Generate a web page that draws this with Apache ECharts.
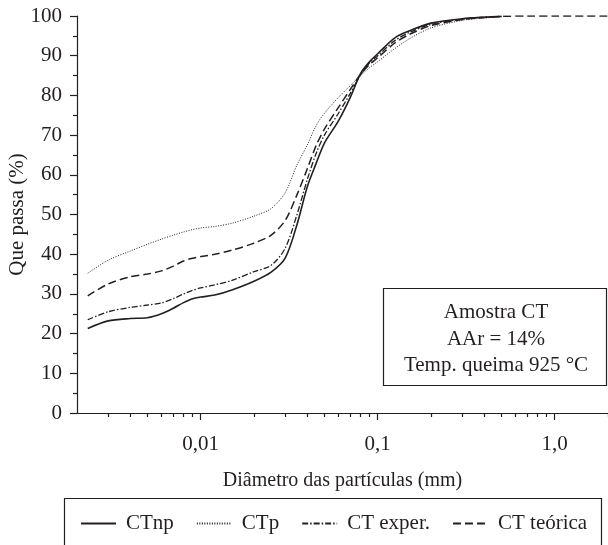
<!DOCTYPE html>
<html>
<head>
<meta charset="utf-8">
<script src="https://cdn.jsdelivr.net/npm/echarts@6/dist/echarts.min.js"></script>
<style>
  html, body { margin: 0; padding: 0; background: #fff; }
  #chart { width: 608px; height: 545px; }
</style>
</head>
<body>
<div id="chart"></div>
<script>
// diâmetros (mm)
var diam = [0.0023, 0.003, 0.004, 0.005, 0.006, 0.007, 0.008, 0.009, 0.01, 0.012, 0.015, 0.02, 0.025, 0.03,
  0.035, 0.04, 0.045, 0.05, 0.06, 0.07, 0.08, 0.09, 0.1, 0.125, 0.15, 0.2, 0.3, 0.4, 0.5];
var diamTeo = diam.concat([0.7, 1, 2]);

// que passa (%)
var ctnp = [21.3, 23.2, 23.8, 24.0, 25.0, 26.4, 27.8, 28.8, 29.2, 29.7, 31.0, 33.2, 35.5, 39.0,
  47.5, 57.0, 63.0, 68.0, 73.6, 79.5, 85.5, 88.5, 90.5, 94.5, 96.2, 98.2, 99.3, 99.7, 99.9];
var ctp = [35.2, 38.5, 40.8, 42.5, 43.8, 44.8, 45.6, 46.2, 46.6, 47.0, 47.8, 49.6, 51.5, 55.5,
  62.5, 67.5, 72.5, 75.5, 79.5, 82.5, 85.0, 87.0, 88.5, 91.8, 94.2, 97.0, 98.9, 99.5, 99.8];
var ctExper = [23.5, 25.5, 26.6, 27.2, 27.7, 28.8, 30.0, 30.9, 31.5, 32.3, 33.4, 35.6, 37.2, 41.5,
  50.0, 58.8, 65.5, 70.0, 75.5, 80.5, 85.2, 88.2, 90.0, 93.8, 95.8, 97.9, 99.2, 99.7, 99.9];
var ctTeorica = [29.5, 32.5, 34.3, 35.0, 35.8, 37.0, 38.3, 39.0, 39.4, 40.0, 41.0, 42.8, 44.8, 48.5,
  55.0, 61.5, 67.5, 71.5, 77.0, 81.5, 85.3, 87.8, 89.5, 93.2, 95.3, 97.6, 99.1, 99.6, 99.9, 100, 100, 100];

// marcas do eixo x
var xMinorTicks = [0.003, 0.004, 0.005, 0.006, 0.007, 0.008, 0.009,
  0.02, 0.03, 0.04, 0.05, 0.06, 0.07, 0.08, 0.09,
  0.2, 0.3, 0.4, 0.5, 0.6, 0.7, 0.8, 0.9, 2];
var xMajorTicks = [0.01, 0.1, 1];
var xTickLabels = ['0,01', '0,1', '1,0'];

var infoLines = ['Amostra CT', 'AAr = 14%', 'Temp. queima 925 °C'];

var ink = '#231f20';
var serif = 'Liberation Serif';

function pairs(xs, ys) {
  return ys.map(function (v, i) { return [xs[i], v]; });
}

function xLabel(v) {
  for (var i = 0; i < xMajorTicks.length; i++) {
    if (Math.abs(Math.log10(v) - Math.log10(xMajorTicks[i])) < 1e-6) return xTickLabels[i];
  }
  return '';
}

var chart = echarts.init(document.getElementById('chart'));

var opt = {
  animation: false,
  textStyle: { fontFamily: serif, color: ink },
  grid: { left: 77, right: 0, top: 16, bottom: 132, containLabel: false, outerBoundsMode: 'none' },
  legend: {
    left: 75,
    top: 508,
    itemWidth: 35,
    itemHeight: 14,
    itemGap: 22,
    itemStyle: { opacity: 0 },
    textStyle: { fontFamily: serif, fontSize: 21, color: ink, padding: [0, 0, 0, 5] },
    data: ['CTnp', 'CTp', 'CT exper.', 'CT teórica']
  },
  xAxis: [{
    type: 'log',
    logBase: 10,
    min: 0.002,
    max: 2,
    position: 'bottom',
    axisLine: { show: true, lineStyle: { color: ink, width: 1.2 } },
    axisTick: { show: true, customValues: xMinorTicks, length: 4, lineStyle: { color: ink, width: 1.2 } },
    axisLabel: { show: false },
    splitLine: { show: false },
    minorTick: { show: false },
    name: 'Diâmetro das partículas (mm)',
    nameLocation: 'middle',
    nameGap: 58,
    nameMoveOverlap: false,
    nameTextStyle: { fontFamily: serif, fontSize: 20, color: ink }
  }, {
    type: 'log',
    logBase: 10,
    min: 0.002,
    max: 2,
    position: 'bottom',
    offset: 0,
    axisLine: { show: false },
    axisTick: { show: true, customValues: xMajorTicks, length: 7, lineStyle: { color: ink, width: 1.2 } },
    axisLabel: {
      customValues: xMajorTicks,
      formatter: xLabel,
      fontFamily: serif, fontSize: 21, color: ink, margin: 21
    },
    splitLine: { show: false },
    minorTick: { show: false }
  }],
  yAxis: {
    type: 'value',
    min: 0,
    max: 100,
    interval: 10,
    axisLine: { show: true, lineStyle: { color: ink, width: 1.2 } },
    axisTick: { show: true, length: 7, lineStyle: { color: ink, width: 1.2 } },
    minorTick: { show: true, splitNumber: 2, length: 4, lineStyle: { color: ink, width: 1.2 } },
    axisLabel: { fontFamily: serif, fontSize: 21, color: ink, margin: 15 },
    splitLine: { show: false },
    name: 'Que passa (%)',
    nameLocation: 'middle',
    nameGap: 49,
    nameMoveOverlap: false,
    nameTextStyle: { fontFamily: serif, fontSize: 21, color: ink }
  },
  graphic: [{
    type: 'rect',
    shape: { x: 64.5, y: 498.5, width: 537, height: 80 },
    style: { fill: 'none', stroke: ink, lineWidth: 1.2 },
    silent: true
  }, {
    type: 'rect',
    shape: { x: 383.5, y: 288.5, width: 223, height: 97 },
    style: { fill: '#fff', stroke: ink, lineWidth: 1.2 },
    silent: true,
    z: 10
  }, {
    type: 'text',
    x: 496,
    y: 339,
    z: 11,
    silent: true,
    style: {
      text: infoLines.join('\n'),
      align: 'center',
      verticalAlign: 'middle',
      font: '21px "Liberation Serif"',
      lineHeight: 26.5,
      fill: ink
    }
  }],
  series: [{
    name: 'CTnp',
    type: 'line',
    smooth: 0.3,
    symbol: 'none',
    data: pairs(diam, ctnp),
    lineStyle: { color: ink, width: 1.6, type: 'solid' },
    itemStyle: { color: ink }
  }, {
    name: 'CTp',
    type: 'line',
    smooth: 0.3,
    symbol: 'none',
    data: pairs(diam, ctp),
    lineStyle: { color: ink, width: 1, type: [1, 1.5] },
    itemStyle: { color: ink }
  }, {
    name: 'CT exper.',
    type: 'line',
    smooth: 0.3,
    symbol: 'none',
    data: pairs(diam, ctExper),
    lineStyle: { color: ink, width: 1.3, type: [6, 2, 1.5, 2] },
    itemStyle: { color: ink }
  }, {
    name: 'CT teórica',
    type: 'line',
    smooth: 0.3,
    symbol: 'none',
    data: pairs(diamTeo, ctTeorica),
    lineStyle: { color: ink, width: 1.5, type: [8, 4] },
    itemStyle: { color: ink }
  }]
};

chart.setOption(opt);
</script>
</body>
</html>
